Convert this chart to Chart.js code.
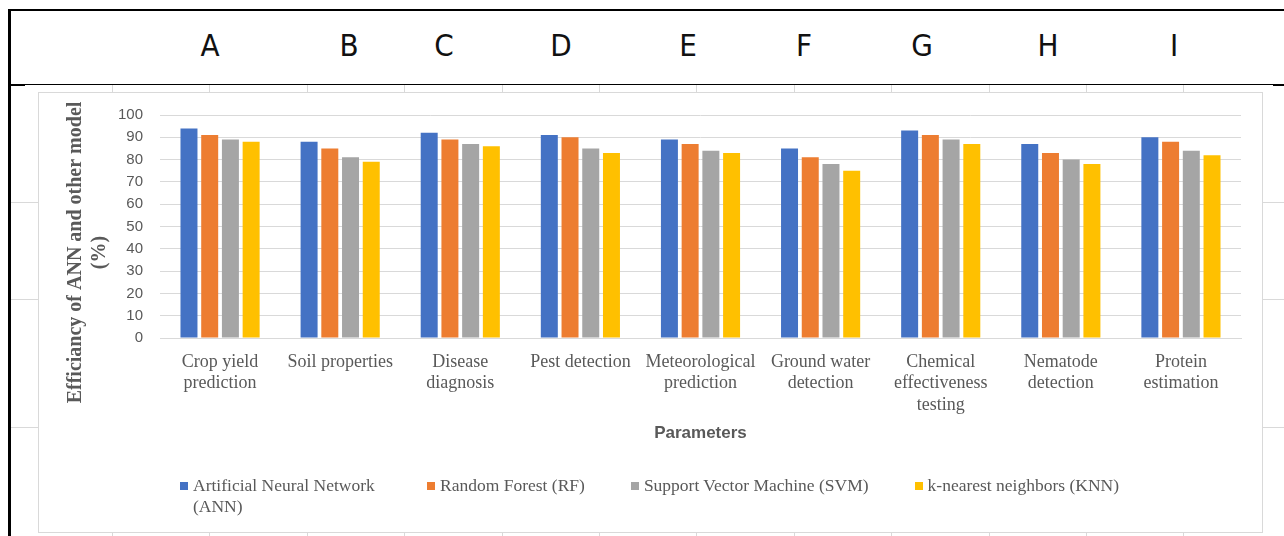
<!DOCTYPE html>
<html>
<head>
<meta charset="utf-8">
<script src="https://cdn.jsdelivr.net/npm/chart.js@4.4.1/dist/chart.umd.min.js"></script>
<style>
  html, body { margin: 0; padding: 0; background: #fff; }
  body { width: 1284px; height: 536px; position: relative; overflow: hidden; }
  .line { position: absolute; background: #000; }
  .faint { position: absolute; background: #d9d9d9; }
  .col-letter {
    position: absolute; top: 27px; transform: translateX(-50%);
    font-family: "Liberation Sans Narrow", "DejaVu Sans Condensed", sans-serif;
    font-size: 31px; color: #111; line-height: 36px;
  }
  #frame {
    position: absolute; left: 38px; top: 92px; width: 1225px; height: 441px;
    border: 1px solid #d9d9d9; box-sizing: border-box; background: #fff;
  }
  #legend {
    position: absolute; left: 180px; top: 475px; display: flex; gap: 46px;
    font-family: "Liberation Serif", "Times New Roman", serif; font-size: 17.5px;
    line-height: 21px; color: #595959;
  }
  .legend-item { display: flex; align-items: flex-start; }
  .legend-box { width: 8px; height: 8px; margin-top: 7px; margin-right: 5px; flex: none; }
</style>
</head>
<body>
<div id="frame"><canvas id="effChart"></canvas></div>
<div id="legend"></div>

<script>
// * data
const columnLetters = ["A", "B", "C", "D", "E", "F", "G", "H", "I"];
const categories = [
  ["Crop yield", "prediction"],
  ["Soil properties"],
  ["Disease", "diagnosis"],
  ["Pest detection"],
  ["Meteorological", "prediction"],
  ["Ground water", "detection"],
  ["Chemical", "effectiveness", "testing"],
  ["Nematode", "detection"],
  ["Protein", "estimation"],
];
const seriesNames = [
  "Artificial Neural Network (ANN)",
  "Random Forest (RF)",
  "Support Vector Machine (SVM)",
  "k-nearest neighbors (KNN)",
];
const seriesColors = ["#4472C4", "#ED7D31", "#A5A5A5", "#FFC000"];
const annValues = [94, 88, 92, 91, 89, 85, 93, 87, 90];
const rfValues = [91, 85, 89, 90, 87, 81, 91, 83, 88];
const svmValues = [89, 81, 87, 85, 84, 78, 89, 80, 84];
const knnValues = [88, 79, 86, 83, 83, 75, 87, 78, 82];
const yMin = 0;
const yMax = 100;
const yStep = 10;
const yTitle = ["Efficiancy of ANN and other model", "(%)"];
const xTitle = "Parameters";

// ? spreadsheet look around the chart
const letterX = [210, 349, 444, 561, 688, 804, 922, 1048, 1174];
function addDiv(cls, l, t, w, h) {
  const d = document.createElement("div");
  d.className = cls;
  d.style.left = l + "px";
  d.style.top = t + "px";
  d.style.width = w + "px";
  d.style.height = h + "px";
  document.body.appendChild(d);
  return d;
}
for (let k = 0; k < 12; k++) {
  const x = Math.round(112 + 97.4 * k);
  addDiv("faint", x, 85, 1, 7);
  addDiv("faint", x, 533, 1, 3);
}
[202, 299, 427].forEach((y) => {
  addDiv("faint", 11, y, 27, 1);
  addDiv("faint", 1263, y, 21, 1);
});
addDiv("line", 8, 9, 1276, 2);
addDiv("line", 8, 9, 3, 527);
addDiv("line", 8, 84, 1265, 1);
addDiv("line", 11, 84, 14, 2);
addDiv("line", 1273, 84, 11, 2);
columnLetters.forEach((c, i) => {
  const d = document.createElement("div");
  d.className = "col-letter";
  d.style.left = letterX[i] + "px";
  d.textContent = c;
  document.body.appendChild(d);
});

// ? legend
const legendEl = document.getElementById("legend");
seriesNames.forEach((name, i) => {
  const item = document.createElement("div");
  item.className = "legend-item";
  const box = document.createElement("span");
  box.className = "legend-box";
  box.style.background = seriesColors[i];
  const txt = document.createElement("span");
  txt.textContent = name;
  if (i === 0) txt.style.width = "188px";
  item.appendChild(box);
  item.appendChild(txt);
  legendEl.appendChild(item);
});

// y title drawn rotated, centred a bit lower like excel does
const yTitlePlugin = {
  id: "yTitlePlugin",
  afterDraw(chart) {
    const { ctx, chartArea } = chart;
    const cy = (chartArea.top + chartArea.bottom) / 2 + 26;
    ctx.save();
    ctx.fillStyle = "#595959";
    ctx.font = "bold 20px 'Liberation Serif', 'Times New Roman', serif";
    ctx.textAlign = "center";
    ctx.textBaseline = "middle";
    yTitle.forEach((line, i) => {
      ctx.save();
      ctx.translate(37 + i * 24, cy);
      ctx.rotate(-Math.PI / 2);
      ctx.fillText(line, 0, 0);
      ctx.restore();
    });
    ctx.restore();
  },
};

const valueSets = [annValues, rfValues, svmValues, knnValues];
const chartData = {
  labels: categories,
  datasets: seriesNames.map((name, i) => ({
    label: name,
    data: valueSets[i],
    backgroundColor: seriesColors[i],
    borderWidth: 0,
    categoryPercentage: 0.69,
    barPercentage: 0.82,
  })),
};

const effChart = new Chart(document.getElementById("effChart").getContext("2d"), {
  type: "bar",
  data: chartData,
  options: {
    responsive: true,
    maintainAspectRatio: false,
    animation: false,
    layout: { padding: { left: 0, right: 21, top: 22, bottom: 88 } },
    plugins: {
      legend: { display: false },
      tooltip: { enabled: false },
    },
    scales: {
      x: {
        grid: { display: false, drawTicks: false },
        border: { display: true, color: "#d9d9d9", width: 1 },
        ticks: {
          color: "#595959",
          padding: 13,
          maxRotation: 0,
          autoSkip: false,
          font: { family: "'Liberation Serif', 'Times New Roman', serif", size: 18, lineHeight: 1.2 },
        },
        title: {
          display: true,
          text: xTitle,
          color: "#595959",
          padding: 0,
          font: { family: "'Liberation Sans', Arial, sans-serif", size: 17, weight: "bold", lineHeight: 1.2 },
        },
        afterFit(scale) {
          scale.height = 106;
        },
      },
      y: {
        min: yMin,
        max: yMax,
        ticks: {
          stepSize: yStep,
          color: "#595959",
          padding: 17,
          font: { family: "'Liberation Sans', Arial, sans-serif", size: 15 },
        },
        grid: { color: "#d9d9d9", lineWidth: 1, drawTicks: false },
        border: { display: false },
        afterFit(scale) {
          scale.width = 121;
          // tick padding should not push the plot down
          scale.paddingTop = 0;
          scale.paddingBottom = 0;
        },
      },
    },
  },
  plugins: [yTitlePlugin],
});
</script>
</body>
</html>
